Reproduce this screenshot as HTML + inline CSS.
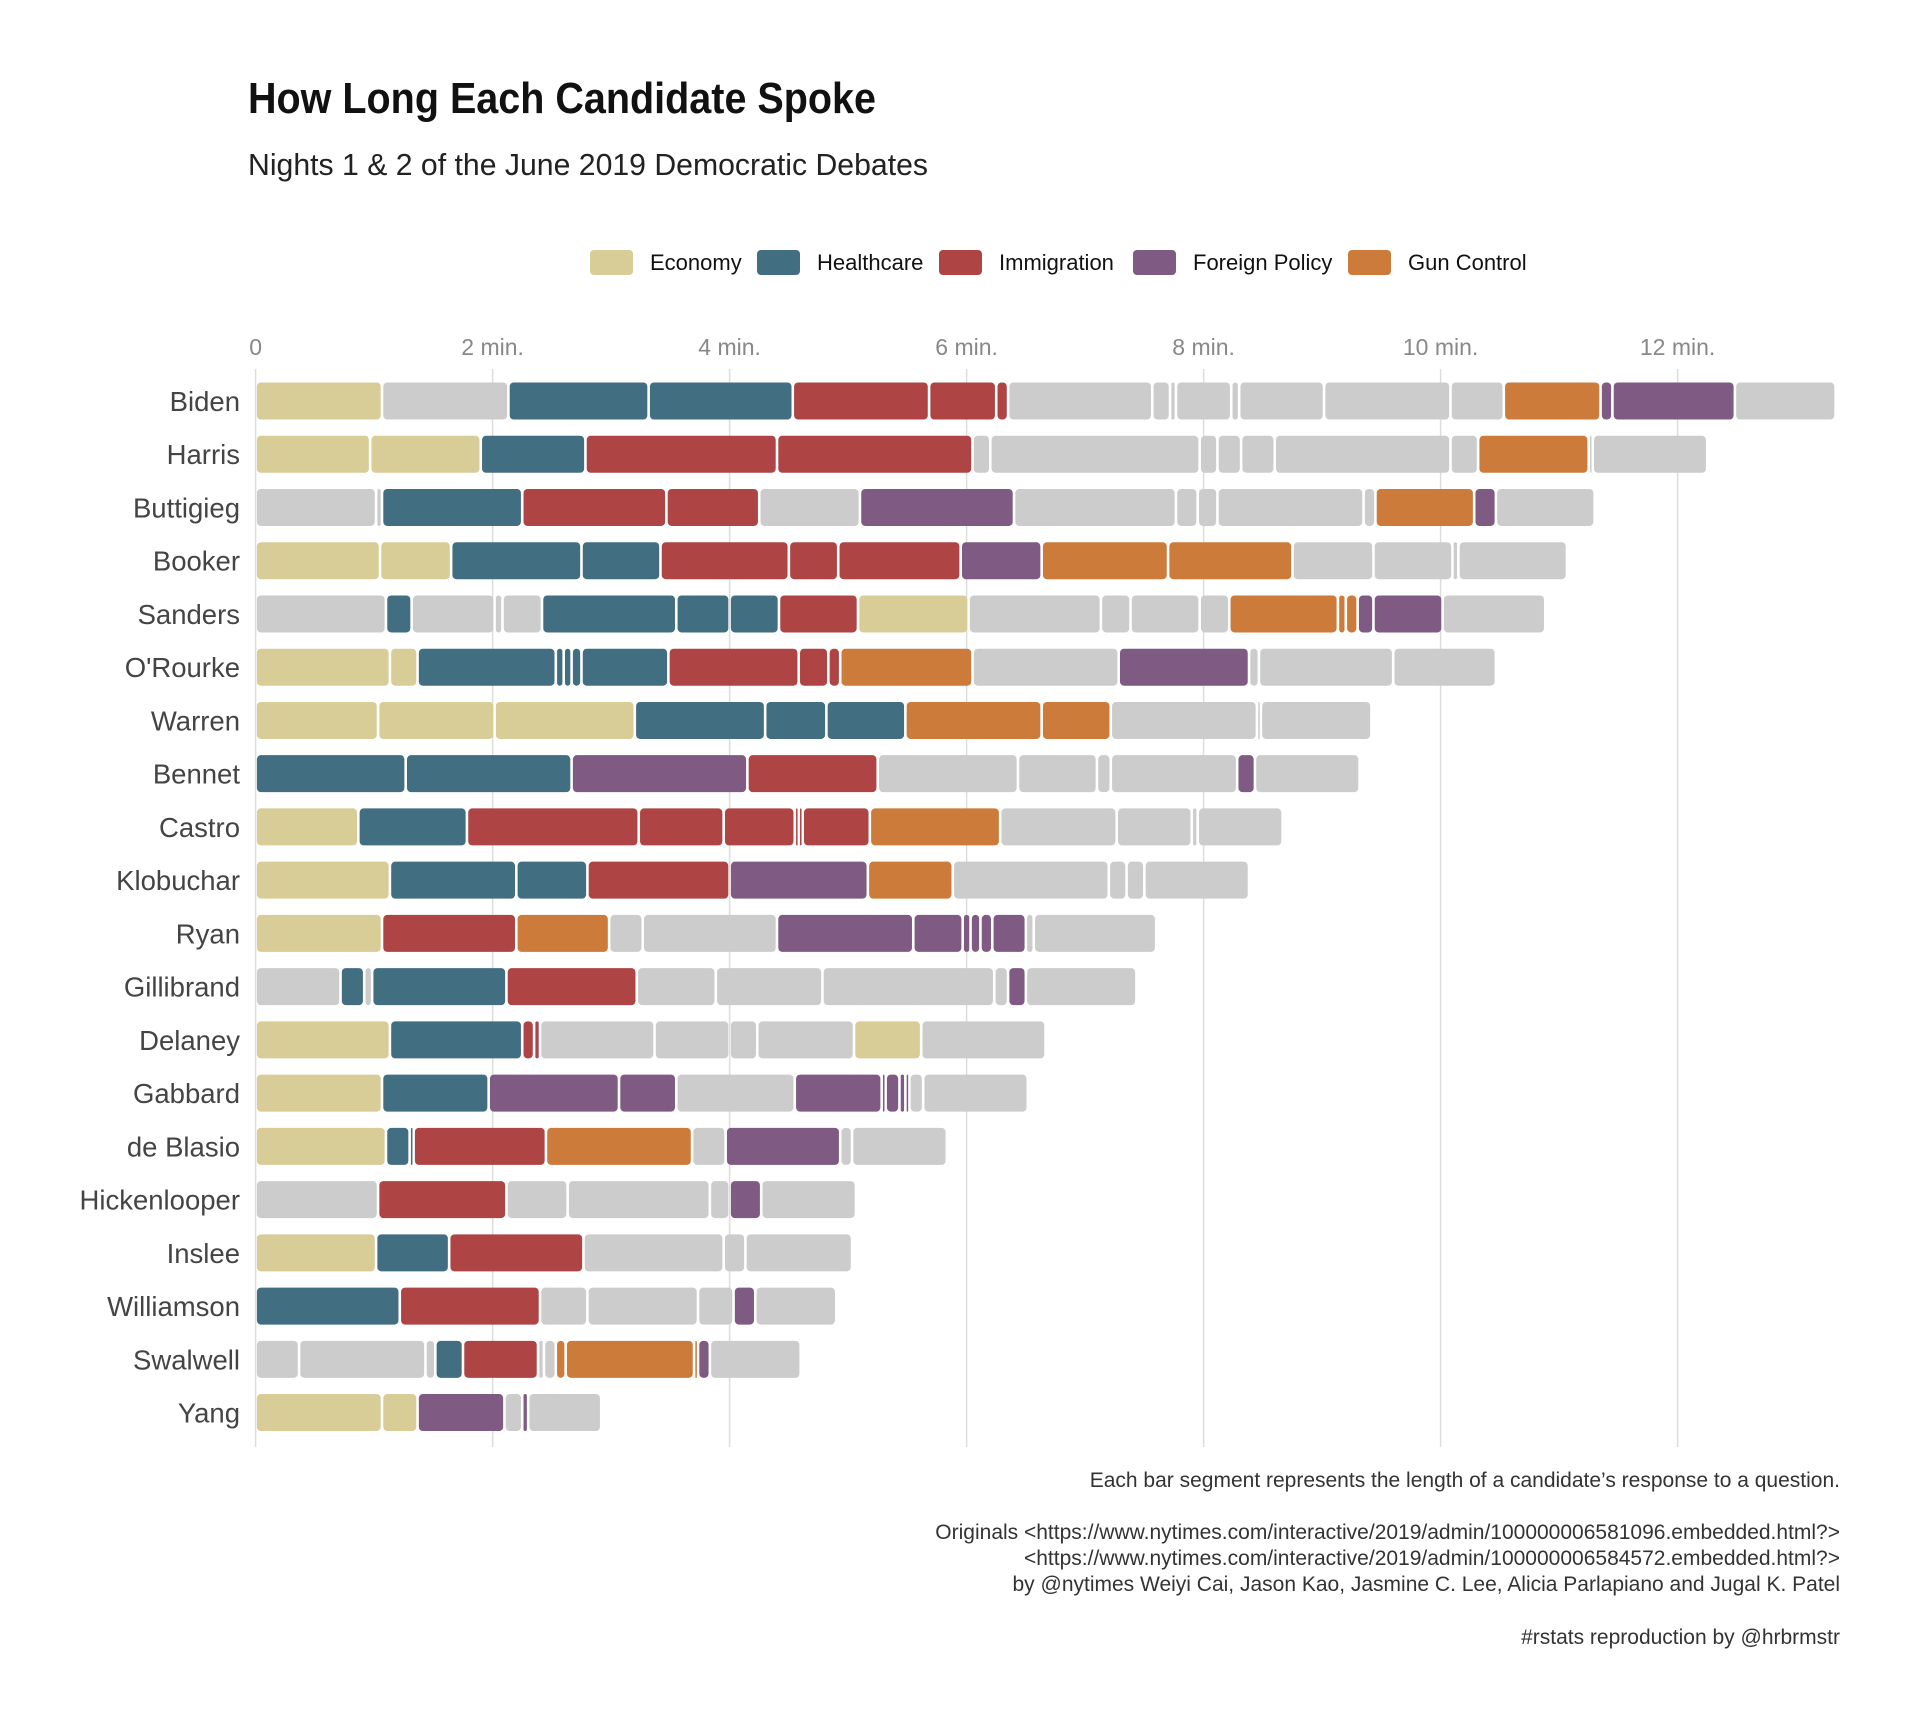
<!DOCTYPE html>
<html><head><meta charset="utf-8">
<style>
html,body{margin:0;padding:0;background:#fff;}
svg{display:block;font-family:"Liberation Sans Narrow","Liberation Sans",sans-serif;}
</style></head>
<body>
<svg id="chart" width="1920" height="1728" viewBox="0 0 1920 1728" xmlns="http://www.w3.org/2000/svg">
<text x="248" y="113" font-size="44" font-weight="bold" fill="#111" textLength="628" lengthAdjust="spacingAndGlyphs">How Long Each Candidate Spoke</text>
<text x="248" y="175" font-size="31" fill="#222" textLength="680" lengthAdjust="spacingAndGlyphs">Nights 1 &amp; 2 of the June 2019 Democratic Debates</text>
<g id="legend"></g>
<g id="grid"></g>
<g id="bars"></g>
<g id="names"></g>
<g font-size="21" fill="#333" text-anchor="end">
<text x="1840" y="1487">Each bar segment represents the length of a candidate’s response to a question.</text>
<text x="1840" y="1539">Originals &lt;https://www.nytimes.com/interactive/2019/admin/100000006581096.embedded.html?&gt;</text>
<text x="1840" y="1565">&lt;https://www.nytimes.com/interactive/2019/admin/100000006584572.embedded.html?&gt;</text>
<text x="1840" y="1591">by @nytimes Weiyi Cai, Jason Kao, Jasmine C. Lee, Alicia Parlapiano and Jugal K. Patel</text>
<text x="1840" y="1644">#rstats reproduction by @hrbrmstr</text>
</g>
</svg>
<script>
const topics = ["Economy","Healthcare","Immigration","Foreign Policy","Gun Control"];
const topicColors = ["#d8cc97","#426e82","#ae4444","#7f5a82","#cc7b3a"];
const otherColor = "#cccccc";
const candidates = ["Biden","Harris","Buttigieg","Booker","Sanders","O'Rourke","Warren","Bennet","Castro","Klobuchar","Ryan","Gillibrand","Delaney","Gabbard","de Blasio","Hickenlooper","Inslee","Williamson","Swalwell","Yang"];
const xTicks = [0,2,4,6,8,10,12];
const xTickLabels = ["0","2 min.","4 min.","6 min.","8 min.","10 min.","12 min."];
// segment topic codes: E,H,I,F,U(gun),G(other); durations in seconds
const segTopics = [
"E G H H I I I G G G G G G G G U F F G",
"E E H I I G G G G G G G U G G",
"G G H I I G F G G G G G U F G",
"E E H H I I I F U U G G G G",
"G H G G G H H H I E G G G G U U U F F G",
"E E H H H H H I I I U G F G G G",
"E E E H H H U U G G G",
"H H F I G G G G F G",
"E H I I I I I I U G G G G",
"E H H I F U G G G G",
"E I U G G F F F F F F G G",
"G H G H I G G G G F G",
"E H I I G G G G E G",
"E H F F G F F F F F G G",
"E H H I U G F G G",
"G I G G G F G",
"E H I G G G",
"H I G G G F G",
"G G G H I G G U U U F G",
"E E F G F G"];
const segSeconds = [
[64,64,71,73,69,34,6,73,9,3,28,4,43,64,27,49,6,62,51],
[58,56,53,97,99,9,106,9,12,17,89,14,56,2,58],
[61,3,71,73,47,51,78,82,11,10,74,6,50,11,50],
[63,36,66,40,65,25,62,41,64,63,41,40,3,55],
[66,13,42,4,20,68,27,25,40,56,67,15,35,15,55,4,6,8,35,52],
[68,14,70,4,4,5,44,66,15,6,67,74,66,5,68,52],
[62,59,71,66,31,40,69,35,74,2,56],
[76,84,89,66,71,40,7,64,9,53],
[52,55,87,43,36,2,2,34,66,59,38,3,43],
[68,64,36,72,70,43,79,9,9,53],
[64,68,47,17,68,69,25,4,5,6,17,4,62],
[43,12,4,68,66,40,54,87,7,9,56],
[68,67,6,3,58,38,14,49,34,63],
[64,54,66,29,60,44,2,7,3,2,7,53],
[66,12,2,67,74,17,58,6,48],
[62,65,31,72,10,16,48],
[61,37,68,71,11,54],
[73,71,24,56,18,11,41],
[22,64,5,14,38,3,6,5,65,2,6,46],
[64,18,44,9,3,37]];

const NS="http://www.w3.org/2000/svg";
const X0=255.6, PX_PER_MIN=118.5, ROW0=401, ROW_STEP=53.24, BAR_H=37;
const xs = m => X0 + m*PX_PER_MIN;
const ys = i => ROW0 + i*ROW_STEP;
const codeIdx = {E:0,H:1,I:2,F:3,U:4};
function mk(tag, attrs, parent){const e=document.createElementNS(NS,tag);for(const k in attrs)e.setAttribute(k,attrs[k]);parent.appendChild(e);return e;}

// legend
const legend=document.getElementById('legend');
const legX=[590,757,939,1133,1348];
topics.forEach((t,i)=>{
  const r=mk('rect',{x:legX[i],y:250,width:43,height:25,rx:4,fill:topicColors[i]},legend);
  
  
  const tx=mk('text',{x:legX[i]+60,y:270,'font-size':22,fill:'#111'},legend);
  tx.textContent=t;
  
  
});

// grid & ticks
const grid=document.getElementById('grid');
xTicks.forEach((v,i)=>{
  const l=mk('line',{x1:xs(v),x2:xs(v),y1:369,y2:1447,stroke:'#dddddd','stroke-width':1.5},grid);
  
  
  const t=mk('text',{x:xs(v),y:355,'font-size':23,fill:'#888','text-anchor':'middle'},grid);
  t.textContent=xTickLabels[i];
  
  
});

// bars
const bars=document.getElementById('bars');
const names=document.getElementById('names');
candidates.forEach((c,ci)=>{
  const codes=segTopics[ci].split(' ');
  let acc=0;
  const yc=ys(ci);
  segSeconds[ci].forEach((s,si)=>{
    const m0=acc/60, m1=(acc+s)/60; acc+=s;
    const x=xs(m0)+1.3, w=Math.max(1.5,xs(m1)-xs(m0)-2.6);
    const code=codes[si];
    const fill=code in codeIdx?topicColors[codeIdx[code]]:otherColor;
    const r=mk('rect',{x:x,y:yc-BAR_H/2,width:w,height:BAR_H,rx:Math.min(4,w/2),fill:fill},bars);
    
    
  });
  const t=mk('text',{x:240,y:yc+10,'font-size':27.5,fill:'#444','text-anchor':'end'},names);
  t.textContent=c;
  
  
});
</script>
</body></html>
